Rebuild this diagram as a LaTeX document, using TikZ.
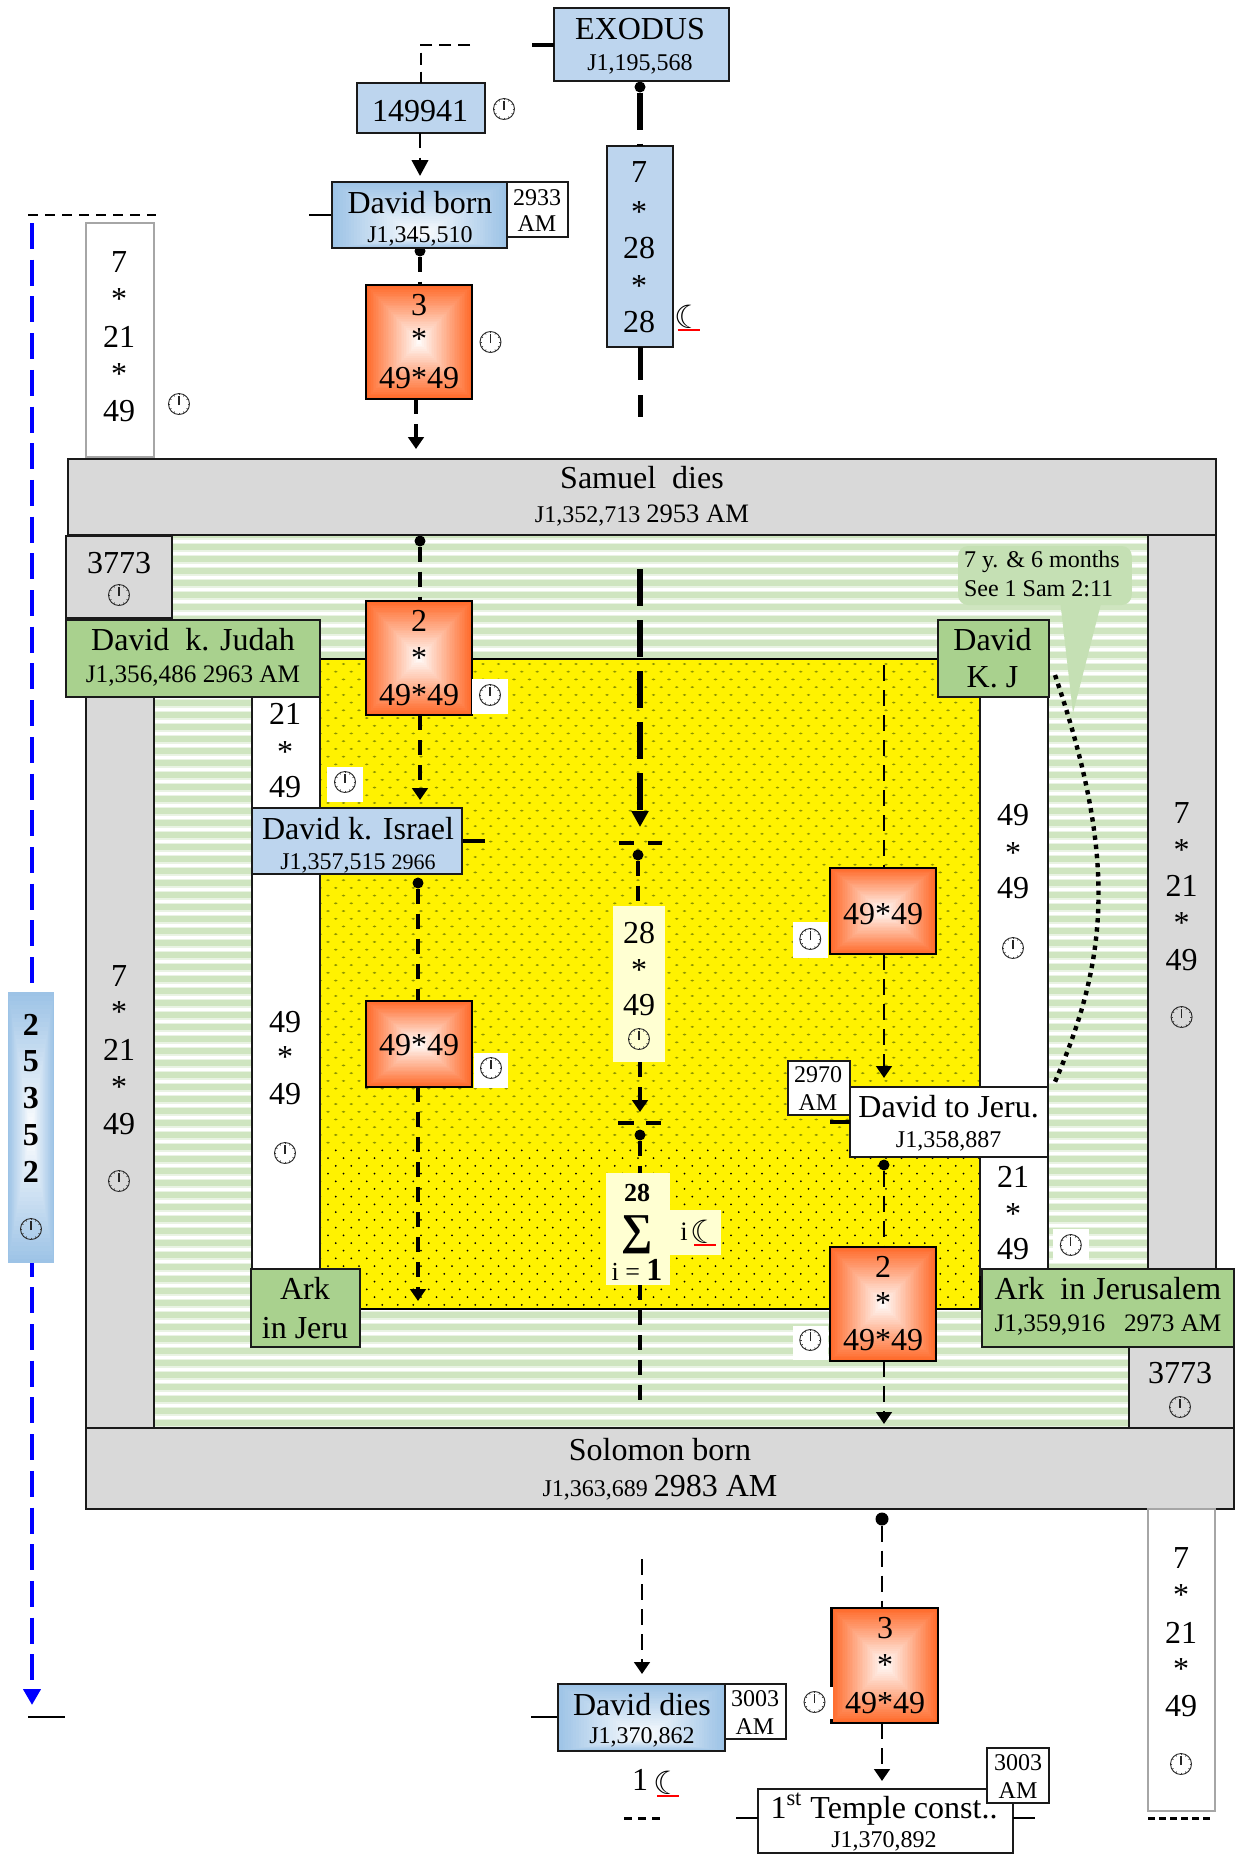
\documentclass[tikz,border=0pt]{standalone}
\usepackage{fontspec}
\setmainfont{Liberation Serif}
\newfontfamily\symf{DejaVu Sans}
\usetikzlibrary{arrows.meta,calc}
\definecolor{boxblue}{HTML}{BDD5EE}
\definecolor{gradblue}{HTML}{9DC3E6}
\definecolor{boxgreen}{HTML}{A9D18E}
\definecolor{calloutg}{HTML}{C5E0B4}
\definecolor{stripeg}{HTML}{CFE5C0}
\definecolor{bandgrey}{HTML}{D9D9D9}
\definecolor{hot}{HTML}{FF6A2A}
\definecolor{paley}{HTML}{FFFFD2}
\definecolor{dotol}{HTML}{8E9400}
\definecolor{edge}{HTML}{1A1A1A}
\newcommand\bx[7]{%
  \pgfmathsetmacro\bxw{(#5-#3)*0.5}\pgfmathsetmacro\bxh{(#6-#4)*0.5}%
  \node[#2,minimum width=\bxw pt,minimum height=\bxh pt] (#1) at ({(#3+#5)/2},{(#4+#6)/2}) {#7};}
\newcounter{tn}
\newcommand\tx[4][big]{\stepcounter{tn}\node[#1] (t\arabic{tn}) at (#2,#3) {#4};}
\newcommand\st[2]{\stepcounter{tn}\node[big] (t\arabic{tn}) at (#1,{#2+4}) {*};}
\newcommand\clk[2]{\pic at (#1,#2) {clockp};}
\newcommand\clkw[6]{\bx{#1}{clockbg}{#2}{#3}{#4}{#5}{}\pic at ({(#2+#4)/2},{#6}) {clockp};}
\newcommand\grad[7]{%
  \foreach \i in {0,...,31}{%
    \pgfmathsetmacro\gt{\i/32}\pgfmathsetmacro\gp{100*(1-\gt)}%
    \fill[#7!\gp!white] ({#1+(#5-#1)*\gt},{#2+(#6-#2)*\gt}) rectangle ({#3+(#5-#3)*\gt},{#4+(#6-#4)*\gt});}}
\newcommand\moon[3]{\node[font=\symf\fontsize{16}{16}\selectfont,inner sep=0pt] (#1) at (#2,#3) {☾};
  \draw[red,line width=1.2pt] ([xshift=-5.5pt,yshift=-6.6pt]#1.center) -- ([xshift=5.5pt,yshift=-6.6pt]#1.center);}
\tikzset{
  big/.style={inner sep=0pt,outer sep=0pt,font=\fontsize{16}{16}\selectfont},
  mid/.style={inner sep=0pt,outer sep=0pt,font=\fontsize{13.3}{14}\selectfont},
  sub/.style={inner sep=0pt,outer sep=0pt,font=\fontsize{12}{14}\selectfont},
  subb/.style={inner sep=0pt,outer sep=0pt,font=\fontsize{12.6}{14}\selectfont},
  frame/.style={draw=edge,line width=1pt,inner sep=0pt,outer sep=0pt,align=center},
  bluebox/.style={frame,fill=boxblue},
  bluegrad/.style={frame},
  greenbox/.style={frame,fill=boxgreen},
  greyband/.style={frame,fill=bandgrey},
  whiteband/.style={frame,fill=white},
  hotbox/.style={draw=black,line width=1.2pt,inner sep=0pt,outer sep=0pt},
  greybox/.style={draw=black!35,line width=1pt,fill=white,inner sep=0pt,outer sep=0pt},
  clockbg/.style={fill=white,inner sep=0pt,outer sep=0pt},
  paleb/.style={fill=paley,inner sep=0pt,outer sep=0pt},
  dotn/.style={circle,fill=black,inner sep=0pt,minimum size=5.5pt,outer sep=0pt},
  conn/.style={draw=black,line width=1.6pt,dash pattern=on 7.5pt off 5pt},
  connthin/.style={draw=black,line width=1.4pt,dash pattern=on 8pt off 4.5pt},
  heavy/.style={draw=black,line width=2.6pt},
  tick/.style={draw=black,line width=1.2pt},
  tickb/.style={draw=black,line width=1.8pt},
  tip/.style={-{Triangle[width=7.8pt,length=6pt]}},
  tipbig/.style={-{Triangle[width=8.2pt,length=8pt]}},
  clockp/.pic={
    \draw[black!85,line width=.45pt] (0,0) circle (10.5);
    \foreach \a in {0,30,...,330}{\draw[black!75,line width=.35pt] (\a:8.7) -- (\a:10.5);}
    \draw[black!85,line width=.6pt] (0,1) -- (0,-8.5);
  }
}
\begin{document}
\begin{tikzpicture}[x=0.5pt,y=-0.5pt]
\useasboundingbox (0,0) rectangle (1235,1854);
% ---------- striped field
\fill[white] (154,536) rectangle (1148,1428);
\begin{scope}
\clip (172,536) -- (1148,536) -- (1148,1347) -- (1128.6,1347) -- (1128.6,1428) -- (154,1428) -- (154,697) -- (172,697) -- cycle;
\foreach \k in {0,...,75}{\fill[stripeg] (150,{535+12*\k-3}) rectangle (1155,{535+12*\k+3});
  \fill[stripeg!45!white] (150,{535+12*\k+3}) rectangle (1155,{535+12*\k+4.5});
  \fill[stripeg!45!white] (150,{535+12*\k-4.5}) rectangle (1155,{535+12*\k-3});}
\end{scope}
% ---------- yellow field
\bx{yellow}{draw=black,line width=1pt,fill=yellow,inner sep=0pt}{320}{659}{979.5}{1309}{}
\begin{scope}
\clip (320.5,660) rectangle (979,1308);
\foreach \r in {0,...,62}{\pgfmathsetmacro\ry{664+\r*7.72}\pgfmathsetmacro\rx{328-mod(\r,2)*7.75}
  \foreach \c in {0,...,42}{\fill[dotol] ({\rx+\c*15.5},\ry) ellipse (1.9 and 1);}}
\foreach \r in {63,...,84}{\pgfmathsetmacro\ry{664+\r*7.72}\pgfmathsetmacro\rx{328-mod(\r,2)*7.75}
  \foreach \c in {0,...,42}{\fill[black] ({\rx+\c*15.5},\ry) circle (1);}}
\end{scope}
% ---------- bands
\bx{bandL}{greyband}{86}{690}{154}{1428}{}
\bx{bandR}{greyband}{1148.2}{535}{1216}{1269}{}
\bx{whiteL}{whiteband}{252}{690}{320}{1275}{}
\bx{whiteR}{whiteband}{979.6}{690}{1047.5}{1275}{}
% ---------- callout
\fill[calloutg] (1060,600) -- (1073,713) -- (1102,600) -- cycle;
\bx{callout}{fill=calloutg,rounded corners=5pt,inner sep=0pt}{958}{546}{1131.8}{605}{}
\tx[sub,anchor=west]{964}{562}{7 y. \& 6 months}
\tx[sub,anchor=west]{964}{589}{See 1 Sam 2:11}
\draw[black,line width=2.2pt,dash pattern=on 2.2pt off 2.4pt] (1055,675) .. controls (1118,860) and (1108,960) .. (1054.5,1083);
% ---------- named free ends
\coordinate (exL) at (532,45);
\coordinate (dbL) at (309,215);
\coordinate (topA) at (470,45);
\coordinate (leftA) at (28,215);
\coordinate (leftB) at (156,215);
\coordinate (blueA) at (32,223);
\coordinate (blueB) at (32,1705);
\coordinate (blueT1) at (28,1717);
\coordinate (blueT2) at (65,1717);
\coordinate (o1end) at (416,449);
\coordinate (m1a) at (640.5,395);
\coordinate (m1b) at (640.5,417);
\coordinate (m1c) at (640.5,380);
\coordinate (c1a) at (640,569);
\coordinate (c1b) at (640,827);
\coordinate (cr1a) at (619,843);
\coordinate (cr1b) at (634,843);
\coordinate (cr1c) at (648,843);
\coordinate (cr1d) at (662,843);
\coordinate (c2b) at (640,1112);
\coordinate (cr2a) at (618,1123);
\coordinate (cr2b) at (634,1123);
\coordinate (cr2c) at (646,1123);
\coordinate (cr2d) at (661,1123);
\coordinate (c3b) at (640,1400);
\coordinate (israelT) at (485,841);
\coordinate (israelS) at (462,841);
\coordinate (r1a) at (884,665);
\coordinate (r1b) at (884,1078);
\coordinate (jeruT) at (830,1122);
\coordinate (r3b) at (884,1424);
\coordinate (l3b) at (418,1301);
\coordinate (a1) at (420,176);
\coordinate (a2) at (420,800);
\coordinate (dd1) at (642,1559);
\coordinate (dd2) at (642,1674);
\coordinate (ddT) at (531,1717);
\coordinate (bd1) at (624,1818);
\coordinate (bd2) at (660,1818);
\coordinate (bd3) at (1148,1818);
\coordinate (bd4) at (1213,1818);
\coordinate (tpL) at (736,1818);
\coordinate (tpR) at (1035,1818);
\coordinate (te) at (882,1781);
% ---------- connector dots
\node[dotn] (d1) at (640,87) {};
\node[dotn] (d2) at (420,251) {};
\node[dotn] (d3) at (420,541) {};
\node[dotn] (d4) at (418,883) {};
\node[dotn] (d5) at (638,855) {};
\node[dotn] (d6) at (640,1135) {};
\node[dotn] (d7) at (884,1165) {};
\node[dotn,minimum width=5pt,minimum height=6.5pt] (d8) at (882,1519) {};
% ---------- boxes that connectors need
\bx{o1}{hotbox}{366}{285}{472}{399}{}
\bx{o2}{hotbox}{366}{601}{472}{715}{}
\bx{o3}{hotbox}{366}{1001}{472}{1087}{}
\bx{o4}{hotbox}{830}{868}{936}{954}{}
\bx{o5}{hotbox}{830}{1247}{936}{1361}{}
\bx{o6}{hotbox}{831.5}{1608}{938}{1723}{}
\bx{s1}{paleb}{613}{906}{665}{1062}{}
\bx{s2}{paleb}{606}{1173}{670}{1285}{}
\bx{s3}{paleb}{670}{1210}{721}{1255}{}
\bx{ex}{bluebox}{554}{8}{729}{81}{}
\bx{b149}{bluebox}{356.5}{82.7}{484.6}{132.7}{}
\bx{dborn}{bluegrad}{332}{182}{507}{248}{}
\bx{ks}{bluebox}{607}{146}{673}{347}{}
\bx{jeru}{whiteband}{850}{1087}{1047.5}{1157}{}
\bx{dies}{bluegrad}{557.5}{1684}{725}{1751}{}
\bx{temple}{frame,fill=white}{758}{1789}{1012.6}{1853}{}
% ---------- connectors
\draw[connthin,line width=1pt,dash pattern=on 6pt off 3.5pt] (topA) -| (b149.north);
\draw[tick,line width=2pt] (exL) -- (exL -| ex.west);
\draw[heavy,dash pattern=on 18.5pt off 7pt] (d1) -- (d1 |- ks.north);
\draw[heavy,dash pattern=on 16.5pt off 7.5pt] (m1c |- ks.south) -- (m1c);
\draw[heavy] (m1a) -- (m1b);
\draw[conn,line width=1.4pt,tipbig] (a1 |- b149.south) -- (a1);
\draw[tick] (dbL) -- (dbL -| dborn.west);
\draw[conn,line width=1.8pt] (d2) -- (d2 |- o1.north);
\draw[conn,line width=1.8pt,tip] (o1end |- o1.south) -- (o1end);
\draw[connthin,line width=1pt,dash pattern=on 5pt off 3.5pt] (leftA) -- (leftB);
\draw[blue,line width=2pt,dash pattern=on 13pt off 5.35pt,-{Triangle[width=8.5pt,length=8pt]}] (blueA) -- (blueB);
\draw[tick] (blueT1) -- (blueT2);
\draw[conn] (d3) -- (d3 |- o2.north);
\draw[conn,tip] (a2 |- o2.south) -- (a2);
\draw[tickb] (israelT) -- (israelS);
\draw[conn] (d4) -- (d4 |- o3.north);
\draw[conn,tip] (l3b |- o3.south) -- (l3b);
\draw[heavy,dash pattern=on 18.5pt off 7pt,tipbig] (c1a) -- (c1b);
\draw[tickb] (cr1a) -- (cr1b);
\draw[tickb] (cr1c) -- (cr1d);
\draw[conn] (d5) -- (d5 |- s1.north);
\draw[conn,tip] (c2b |- s1.south) -- (c2b);
\draw[tickb] (cr2a) -- (cr2b);
\draw[tickb] (cr2c) -- (cr2d);
\draw[conn] (d6) -- (d6 |- s2.north);
\draw[conn] (c3b |- s2.south) -- (c3b);
\draw[connthin] (r1a) -- (r1a |- o4.north);
\draw[connthin,tip] (r1b |- o4.south) -- (r1b);
\draw[tickb] (jeruT) -- (jeruT -| jeru.west);
\draw[connthin] (d7) -- (d7 |- o5.north);
\draw[connthin,tip] (r3b |- o5.south) -- (r3b);
\draw[connthin] (d8) -- (d8 |- o6.north);
\draw[connthin,tip] (te |- o6.south) -- (te);
\draw[connthin,tip] (dd1) -- (dd2);
\draw[tick] (ddT) -- (ddT -| dies.west);
\draw[tick,line width=1.5pt,dash pattern=on 4pt off 3pt] (bd1) -- (bd2);
\draw[tick,line width=1.5pt,dash pattern=on 3.5pt off 2pt] (bd3) -- (bd4);
\draw[tick] (tpL) -- (tpL -| temple.west);
\draw[tick] (tpR -| temple.east) -- (tpR);
% ---------- gradient fills
\grad{366}{285}{472}{399}{419}{342}{hot}
\grad{366}{601}{472}{715}{419}{658}{hot}
\grad{366}{1001}{472}{1087}{419}{1044}{hot}
\grad{830}{868}{936}{954}{883}{911}{hot}
\grad{830}{1247}{936}{1361}{883}{1304}{hot}
\grad{831.5}{1608}{938}{1723}{885}{1665}{hot}
\grad{332}{182}{507}{248}{420}{236}{gradblue}
\grad{557.5}{1684}{725}{1751}{642}{1738}{gradblue}
\grad{8}{992}{54}{1263}{31}{1130}{gradblue}
% ---------- frames redrawn
\draw[black,line width=1.2pt] (o1.south west) rectangle (o1.north east);
\draw[black,line width=1.2pt] (o2.south west) rectangle (o2.north east);
\draw[black,line width=1.2pt] (o3.south west) rectangle (o3.north east);
\draw[black,line width=1.2pt] (o4.south west) rectangle (o4.north east);
\draw[black,line width=1.2pt] (o5.south west) rectangle (o5.north east);
\draw[black,line width=1.2pt] (o6.south west) rectangle (o6.north east);
\draw[edge,line width=1pt] (dborn.south west) rectangle (dborn.north east);
\draw[edge,line width=1pt] (dies.south west) rectangle (dies.north east);
% ---------- main boxes
\bx{samuel}{greyband}{68}{459}{1216}{535}{}
\bx{solomon}{greyband}{86}{1428}{1234}{1509}{}
\bx{c3773L}{greyband}{66}{536}{172}{618}{}
\bx{c3773R}{greyband}{1128.6}{1347}{1234}{1428}{}
\bx{judah}{greenbox}{66}{620}{320}{697}{}
\bx{kj}{greenbox}{938.4}{620}{1049}{697}{}
\bx{israel}{bluebox}{252}{808}{462}{874}{}
\bx{arkL}{greenbox}{251}{1269}{360}{1347}{}
\bx{arkR}{greenbox}{981.6}{1269}{1234}{1347}{}
\bx{g1}{greybox}{86}{223}{154}{457}{}
\bx{g2}{greybox}{1148}{1509}{1215}{1811}{}
\bx{am1}{whiteband}{507}{182}{567.6}{237}{}
\bx{am2}{whiteband}{788}{1061}{850}{1115}{}
\bx{am3}{whiteband}{725}{1684}{786}{1739}{}
\bx{am4}{whiteband}{987}{1748}{1049}{1803}{}
% ---------- clock backgrounds
\clkw{cb1}{473}{325}{508}{360}{342}
\clkw{cb2}{472}{679}{508}{714}{695}
\clkw{cb3}{327}{767}{363}{802}{782}
\clkw{cb4}{474}{1053}{508}{1088}{1068}
\clkw{cb5}{792.5}{922}{828}{958}{939}
\clkw{cb6}{792.5}{1326}{828}{1360}{1340}
\clkw{cb7}{1053}{1229}{1088.6}{1262}{1245}
\clkw{cb8}{796}{1687}{833}{1719}{1702}
% ---------- clocks without white ground
\clk{504}{109}
\clk{179}{404}
\clk{119}{595}
\clk{119}{1181}
\clk{285}{1153}
\clk{639}{1039}
\clk{1013}{948}
\clk{1181.6}{1017}
\clk{1180}{1407}
\clk{1181}{1764}
\clk{31}{1229}
% ---------- texts
\tx{640}{29}{EXODUS}
\tx[sub]{640}{64}{J1,195,568}
\tx{420}{111}{149941}
\tx{420}{203}{David born}
\tx[sub]{420}{236}{J1,345,510}
\tx[sub]{537}{198}{2933}
\tx[sub]{537}{224}{AM}
\tx{119}{262}{7}\st{119}{295}\tx{119}{337}{21}\st{119}{370}\tx{119}{411}{49}
\tx{419}{305}{3}\st{419}{335}\tx{419}{378}{49*49}
\tx{639}{172}{7}\st{639}{208}\tx{639}{248}{28}\st{639}{282}\tx{639}{322}{28}
\moon{mA}{688.6}{317}
\tx{642}{478}{Samuel\ \ dies}
\node[inner sep=0pt] (samsub) at (642,516) {\fontsize{12}{14}\selectfont J1,352,713 \fontsize{13.3}{14}\selectfont 2953 AM};
\tx{119}{563}{3773}
\tx{193}{640}{David\ \ k. Judah}
\tx[subb]{193}{676}{J1,356,486 2963 AM}
\tx{992.5}{640}{David}
\tx{992.5}{677}{K. J}
\tx{419}{621}{2}\st{419}{654}\tx{419}{695}{49*49}
\tx{285}{714}{21}\st{285}{748}\tx{285}{787}{49}
\tx{358}{829}{David k. Israel}
\node[inner sep=0pt] (israelsub) at (358,863) {\fontsize{12}{14}\selectfont J1,357,515 \fontsize{11}{14}\selectfont 2966};
\tx{419}{1045}{49*49}
\tx{285}{1022}{49}\st{285}{1053}\tx{285}{1094}{49}
\tx{119}{976}{7}\st{119}{1008}\tx{119}{1050}{21}\st{119}{1083}\tx{119}{1124}{49}
\tx{305}{1288}{Ark}
\tx{305}{1328}{in Jeru}
\foreach \v/\w in {2/1025,5/1061,3/1098,5/1135,2/1172}{\stepcounter{tn}\node[big,font=\fontsize{16}{16}\selectfont\bfseries] (t\arabic{tn}) at (31,\w) {\v};}
\tx{883}{914}{49*49}
\tx{1013}{815}{49}\st{1013}{849}\tx{1013}{888}{49}
\tx{1181.6}{813}{7}\st{1181.6}{846}\tx{1181.6}{886}{21}\st{1181.6}{919}\tx{1181.6}{960}{49}
\tx{639}{933}{28}\st{639}{966}\tx{639}{1005}{49}
\tx[sub]{818}{1075}{2970}
\tx[sub]{818}{1103}{AM}
\tx{948.6}{1107}{David to Jeru.}
\tx[sub]{948.6}{1141}{J1,358,887}
\tx[sub,font=\fontsize{13}{14}\selectfont\bfseries]{637}{1193}{28}
\node[inner sep=0pt,font=\fontsize{22}{22}\selectfont\bfseries] (sigma) at (637,1235) {∑};
\node[inner sep=0pt] (sumlow) at (637,1270) {\fontsize{13}{14}\selectfont i = \fontsize{16}{16}\selectfont\bfseries 1};
\tx[mid]{684}{1232}{i}
\moon{mB}{705}{1232}
\tx{883}{1267}{2}\st{883}{1299}\tx{883}{1340}{49*49}
\tx{1013}{1177}{21}\st{1013}{1210}\tx{1013}{1249}{49}
\tx{1108}{1289}{Ark\ \ in Jerusalem}
\tx[subb]{1108}{1325}{J1,359,916\ \ \ 2973 AM}
\tx{1180}{1373}{3773}
\tx{660}{1450}{Solomon born}
\node[inner sep=0pt] (solsub) at (660,1488) {\fontsize{12}{14}\selectfont J1,363,689 \fontsize{16}{16}\selectfont 2983 AM};
\tx{885}{1628}{3}\st{885}{1661}\tx{885}{1703}{49*49}
\tx{642}{1705}{David dies}
\tx[sub]{642}{1737}{J1,370,862}
\tx[sub]{755}{1699}{3003}
\tx[sub]{755}{1727}{AM}
\tx{640}{1780}{1}
\moon{mC}{668}{1783}
\tx{884}{1809}{1\textsuperscript{st} Temple const..}
\tx[sub]{884}{1841}{J1,370,892}
\tx[sub]{1018}{1763}{3003}
\tx[sub]{1018}{1791}{AM}
\tx{1181}{1558}{7}\st{1181}{1591}\tx{1181}{1633}{21}\st{1181}{1665}\tx{1181}{1706}{49}
\end{tikzpicture}
\end{document}
